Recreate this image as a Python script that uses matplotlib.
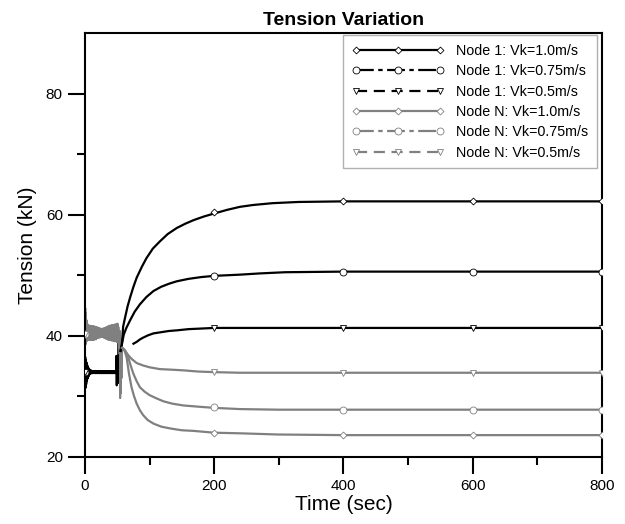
import numpy as np
import matplotlib.pyplot as plt
from matplotlib.lines import Line2D

plt.rcParams['font.family'] = ['Liberation Sans', 'DejaVu Sans']

# initial noisy phase (shared by all speeds of a node), 0.5 s steps
noise1_t = np.arange(0, 55.5, 0.5)
noise1 = [34.0, 36.5, 31.4, 36.0, 32.0, 35.6, 32.5, 35.2, 32.9, 34.9,
          33.2, 34.7, 33.4, 34.5, 33.6, 34.4, 33.7, 34.3, 33.8, 34.3,
          33.8, 34.2, 33.9, 34.2, 33.8, 34.2, 33.9, 34.1, 33.9, 34.2,
          33.9, 34.1, 33.8, 34.2, 33.9, 34.1, 33.9, 34.2, 33.8, 34.1,
          33.9, 34.1, 33.9, 34.2, 33.8, 34.1, 33.9, 34.1, 33.9, 34.2,
          33.8, 34.1, 33.9, 34.1, 33.9, 34.2, 33.8, 34.1, 33.9, 34.1,
          33.9, 34.2, 33.8, 34.1, 33.9, 34.1, 33.9, 34.2, 33.8, 34.1,
          33.9, 34.1, 33.9, 34.2, 33.8, 34.1, 33.9, 34.1, 33.9, 34.2,
          33.8, 34.1, 33.9, 34.1, 33.9, 34.2, 33.8, 34.1, 33.9, 34.1,
          33.9, 34.2, 33.8, 34.1, 33.9, 34.1, 33.9, 36.7, 31.8, 36.2,
          33.9, 34.1, 34.0, 34.5, 39.0, 32.2, 38.5, 33.5, 38.2, 37.5,
          37.5]
noiseN_t = np.arange(0, 58.0, 0.5)
noiseN = [40.0, 44.6, 38.6, 43.8, 39.0, 42.6, 39.2, 42.0, 39.3, 41.8,
          39.3, 41.7, 39.4, 41.6, 39.3, 41.7, 39.4, 41.6, 39.3, 41.6,
          39.4, 41.5, 39.3, 41.6, 39.4, 41.5, 39.4, 41.6, 39.3, 41.5,
          39.5, 41.4, 39.5, 41.5, 39.4, 41.4, 39.6, 41.3, 39.6, 41.4,
          39.7, 41.2, 39.7, 41.3, 39.8, 41.2, 39.7, 41.2, 39.8, 41.1,
          39.8, 41.1, 39.9, 41.2, 39.8, 41.1, 39.8, 41.2, 39.7, 41.2,
          39.7, 41.3, 39.6, 41.3, 39.6, 41.4, 39.5, 41.4, 39.5, 41.5,
          39.4, 41.5, 39.4, 41.6, 39.3, 41.6, 39.4, 41.7, 39.3, 41.6,
          39.3, 41.7, 39.2, 41.7, 39.3, 41.8, 39.2, 41.7, 39.2, 41.8,
          39.2, 41.8, 39.1, 41.9, 39.2, 41.8, 39.1, 41.9, 39.0, 42.0,
          39.0, 42.0, 38.9, 41.5, 41.3, 38.0, 40.8, 37.0, 40.8, 29.7,
          38.6, 30.5, 38.5, 33.0, 38.2, 38.0]

# response after the speed change
t_n1_10 = [55, 57, 59, 62, 66, 70, 75, 80, 88, 95, 105, 116, 128, 142, 155, 168, 184, 200, 220, 240, 260, 290, 330, 400, 500, 600, 700, 800]
v_n1_10 = [37.5, 38.4, 41.5, 43.0, 44.9, 46.4, 48.1, 49.6, 51.4, 52.8, 54.4, 55.6, 56.8, 57.8, 58.5, 59.1, 59.7, 60.2, 60.8, 61.3, 61.6, 61.9, 62.1, 62.2, 62.2, 62.2, 62.2, 62.2]
t_n1_075 = [55, 57, 60, 64, 70, 77, 85, 95, 106, 118, 130, 142, 160, 180, 200, 220, 240, 270, 310, 400, 500, 600, 800]
v_n1_075 = [37.5, 38.6, 40.2, 41.3, 42.6, 44.0, 45.2, 46.4, 47.4, 48.1, 48.6, 49.0, 49.4, 49.7, 49.9, 50.0, 50.1, 50.3, 50.5, 50.6, 50.6, 50.6, 50.6]
t_n1_05 = [75, 80, 85, 90, 98, 106, 118, 130, 142, 160, 180, 200, 240, 300, 400, 600, 800]
v_n1_05 = [38.7, 39.0, 39.4, 39.7, 40.1, 40.4, 40.6, 40.8, 40.9, 41.1, 41.2, 41.3, 41.3, 41.3, 41.3, 41.3, 41.3]
t_nn_10 = [57, 60, 62, 64.5, 68, 72, 76, 80, 85, 90, 97, 106, 118, 132, 150, 168, 200, 240, 300, 400, 600, 800]
v_nn_10 = [38.0, 37.8, 37.3, 36.4, 33.8, 31.5, 30.0, 28.8, 27.7, 26.9, 26.1, 25.5, 25.0, 24.7, 24.4, 24.3, 24.0, 23.9, 23.7, 23.6, 23.6, 23.6]
t_nn_075 = [58, 62, 65, 67, 71, 75, 80, 85, 92, 100, 110, 121, 135, 152, 175, 200, 240, 300, 400, 600, 800]
v_nn_075 = [38.0, 37.6, 37.0, 36.4, 35.0, 33.7, 32.5, 31.5, 30.8, 30.2, 29.7, 29.2, 28.8, 28.5, 28.3, 28.1, 27.9, 27.8, 27.8, 27.8, 27.8]
t_nn_05 = [58, 62, 67, 72, 80, 90, 100, 116, 135, 152, 175, 200, 240, 300, 400, 600, 800]
v_nn_05 = [38.0, 37.5, 36.8, 36.2, 35.5, 35.1, 34.8, 34.5, 34.4, 34.3, 34.1, 34.0, 33.9, 33.9, 33.9, 33.9, 33.9]

# symbol positions
mark_t = [0, 200, 400, 600, 800]
m_n1_10 = [34.0, 60.4, 62.2, 62.2, 62.2]
m_n1_075 = [34.0, 49.9, 50.6, 50.6, 50.6]
m_n1_05 = [34.0, 41.3, 41.3, 41.3, 41.3]
m_nn_10 = [40.3, 24.0, 23.6, 23.6, 23.6]
m_nn_075 = [40.3, 28.2, 27.8, 27.8, 27.8]
m_nn_05 = [40.3, 34.0, 33.9, 33.9, 33.9]

labels = ['Node 1: Vk=1.0m/s', 'Node 1: Vk=0.75m/s', 'Node 1: Vk=0.5m/s',
          'Node N: Vk=1.0m/s', 'Node N: Vk=0.75m/s', 'Node N: Vk=0.5m/s']

gray = '#808080'
lw = 1.6
fig = plt.figure(figsize=(6.25, 5.24), dpi=100)
ax = fig.add_axes([0.136, 0.128, 0.827, 0.809])

ax.plot(noise1_t, noise1, color='black', lw=1.4)
ax.plot(noiseN_t, noiseN, color=gray, lw=1.4)

series = [(t_n1_10, v_n1_10, m_n1_10, 'black', 'D', '-'),
          (t_n1_075, v_n1_075, m_n1_075, 'black', 'o', (0, (8, 2, 2, 2))),
          (t_n1_05, v_n1_05, m_n1_05, 'black', 'v', (0, (5, 3))),
          (t_nn_10, v_nn_10, m_nn_10, gray, 'D', '-'),
          (t_nn_075, v_nn_075, m_nn_075, gray, 'o', (0, (8, 2, 2, 2))),
          (t_nn_05, v_nn_05, m_nn_05, gray, 'v', (0, (5, 3)))]
handles = []
for (t, v, m, c, mk, ls), lab in zip(series, labels):
    ax.plot(t, v, color=c, lw=lw)
    ms = 3.5 if mk == 'D' else 5
    ax.plot(mark_t, m, ls='none', marker=mk, ms=ms, mfc='white', mec=c, mew=0.6, zorder=3)
    handles.append(Line2D([0], [0], color=c, lw=lw, ls=ls, marker=mk, ms=ms,
                          mfc='white', mec=c, mew=0.6, label=lab))

ax.legend(handles=handles, loc='upper right', bbox_to_anchor=(0.99, 0.995),
          borderaxespad=0, numpoints=3, handlelength=6.5, fontsize=10.3,
          frameon=True, fancybox=False, edgecolor='#b0b0b0', framealpha=1,
          labelspacing=0.45, borderpad=0.6)

ax.set_xlim(0, 800)
ax.set_ylim(20, 90)
ax.set_xticks([0, 200, 400, 600, 800])
ax.set_xticks([100, 300, 500, 700], minor=True)
ax.set_yticks([20, 40, 60, 80])
ax.set_yticks([30, 50, 70], minor=True)
ax.tick_params(which='major', direction='out', length=12.5, width=1.5, labelsize=11)
ax.tick_params(which='minor', direction='out', length=6, width=1.5)
for s in ax.spines.values():
    s.set_linewidth(1.5)
ax.set_xlabel('Time (sec)', fontsize=15, labelpad=1)
ax.set_ylabel('Tension (kN)', fontsize=15, labelpad=6)
ax.set_title('Tension Variation', fontsize=14, fontweight='bold', pad=6)

plt.savefig('out.png', dpi=100)
